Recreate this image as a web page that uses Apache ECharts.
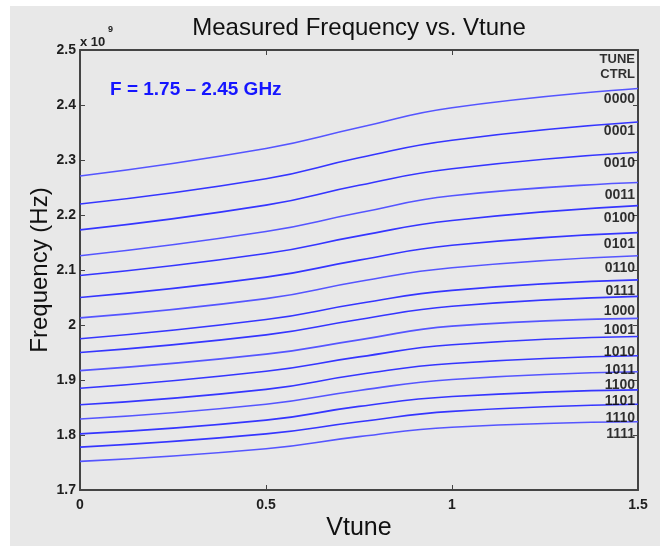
<!DOCTYPE html>
<html>
<head>
<meta charset="utf-8">
<script src="https://cdn.jsdelivr.net/npm/echarts@6/dist/echarts.min.js"></script>
<style>
html,body{margin:0;padding:0;background:#fff;}
#c{width:660px;height:546px;}
</style>
</head>
<body>
<div id="c"></div>
<script>
// Vtune sample points (V)
var vtune = [0, 0.5, 0.75, 1, 1.5];
// Measured frequency (GHz) per TUNE CTRL code
var tuneCodes = ['0000','0001','0010','0011','0100','0101','0110','0111','1000','1001','1010','1011','1100','1101','1110','1111'];
var f0000 = [2.271, 2.321, 2.359, 2.395, 2.430];
var f0001 = [2.220, 2.266, 2.304, 2.336, 2.369];
var f0010 = [2.173, 2.218, 2.254, 2.284, 2.314];
var f0011 = [2.126, 2.170, 2.204, 2.235, 2.259];
var f0100 = [2.090, 2.130, 2.162, 2.190, 2.217];
var f0101 = [2.050, 2.087, 2.118, 2.145, 2.168];
var f0110 = [2.013, 2.048, 2.079, 2.104, 2.126];
var f0111 = [1.975, 2.010, 2.039, 2.063, 2.082];
var f1000 = [1.950, 1.982, 2.010, 2.034, 2.052];
var f1001 = [1.917, 1.947, 1.973, 1.998, 2.012];
var f1010 = [1.885, 1.916, 1.942, 1.964, 1.979];
var f1011 = [1.855, 1.883, 1.910, 1.930, 1.944];
var f1100 = [1.829, 1.856, 1.881, 1.901, 1.915];
var f1101 = [1.802, 1.827, 1.852, 1.870, 1.882];
var f1110 = [1.778, 1.802, 1.824, 1.843, 1.856];
var f1111 = [1.752, 1.775, 1.797, 1.814, 1.824];
// Label anchor frequencies (GHz) at right edge for code labels
var codeLabelFreq = [2.410, 2.352, 2.295, 2.236, 2.194, 2.147, 2.103, 2.061, 2.026, 1.991, 1.950, 1.918, 1.891, 1.861, 1.830, 1.802];
var headerLabelFreq = [2.483, 2.455];
var headerLabels = ['TUNE', 'CTRL'];
var yTicks = ['1.7','1.8','1.9','2','2.1','2.2','2.3','2.4','2.5'];

var allSeries = [f0000,f0001,f0010,f0011,f0100,f0101,f0110,f0111,f1000,f1001,f1010,f1011,f1100,f1101,f1110,f1111];

var chart = echarts.init(document.getElementById('c'), null, {renderer:'canvas', devicePixelRatio:1});

var series = allSeries.map(function(arr, i){
  return {
    type:'line', name: tuneCodes[i], smooth:0.5,
    showSymbol:false, symbol:'none', silent:true,
    lineStyle:{color: i%3===0 ? '#5555ff' : '#3535ff', width:1.6},
    data: vtune.map(function(x,j){ return [x, arr[j]]; }),
    z:3
  };
});

var fam = 'Liberation Sans, Arial, sans-serif';

series.push({
  type:'scatter', symbolSize:0, silent:true, z:5,
  data: tuneCodes.map(function(c,i){ return {name:c, value:[1.5, codeLabelFreq[i]]}; }),
  label:{show:true, position:'left', distance:3, formatter:'{b}', fontSize:14,
    fontFamily:fam, fontWeight:'bold', color:'#000'}
});
series.push({
  type:'scatter', symbolSize:0, silent:true, z:5,
  data: headerLabels.map(function(c,i){ return {name:c, value:[1.5, headerLabelFreq[i]]}; }),
  label:{show:true, position:'left', distance:3, formatter:'{b}', fontSize:13,
    fontFamily:fam, fontWeight:'bold', color:'#000'}
});

var axisLineStyle = {color:'#444', width:2};
var tickLbl = {fontFamily:fam, fontWeight:'bold', fontSize:14, color:'#1e1e1e'};

chart.setOption({
  animation:false,
  backgroundColor:'#ffffff',
  grid:{left:80, right:22, top:50, bottom:56, show:false},
  xAxis:[{
    type:'value', min:0, max:1.5, interval:0.5, position:'bottom',
    axisLine:{show:true, onZero:false, lineStyle:axisLineStyle},
    axisTick:{show:true, inside:true, length:5, lineStyle:{color:'#444', width:1}},
    axisLabel:Object.assign({margin:8, formatter:function(v){return String(v);}}, tickLbl),
    splitLine:{show:false}
  },{
    type:'value', min:0, max:1.5, interval:0.5, position:'top',
    axisLine:{show:true, onZero:false, lineStyle:axisLineStyle},
    axisTick:{show:true, inside:true, length:5, lineStyle:{color:'#444', width:1}},
    axisLabel:{show:false}, splitLine:{show:false}
  }],
  yAxis:[{
    type:'value', min:1.7, max:2.5, interval:0.1, position:'left',
    axisLine:{show:true, onZero:false, lineStyle:axisLineStyle},
    axisTick:{show:true, inside:true, length:5, lineStyle:{color:'#444', width:1}},
    axisLabel:Object.assign({margin:4, formatter:function(v){
      var k = Math.round((v-1.7)*10); return yTicks[k];
    }}, tickLbl),
    splitLine:{show:false}
  },{
    type:'value', min:1.7, max:2.5, interval:0.1, position:'right',
    axisLine:{show:true, onZero:false, lineStyle:axisLineStyle},
    axisTick:{show:true, inside:true, length:5, lineStyle:{color:'#444', width:1}},
    axisLabel:{show:false}, splitLine:{show:false}
  }],
  graphic:[
    {type:'rect', left:10, top:6, shape:{width:650, height:540}, style:{fill:'#e8e8e8'}, z:-10, silent:true},
    {type:'text', x:359, y:28, style:{text:'Measured Frequency vs. Vtune', fontSize:24, fontFamily:fam, fill:'#111', align:'center', verticalAlign:'middle'}, z:10},
    {type:'text', x:359, y:528, style:{text:'Vtune', fontSize:25, fontFamily:fam, fill:'#111', align:'center', verticalAlign:'middle'}, z:10},
    {type:'text', x:40, y:270, rotation:Math.PI/2, style:{text:'Frequency (Hz)', fontSize:24, fontFamily:fam, fill:'#111', align:'center', verticalAlign:'middle'}, z:10},
    {type:'text', x:80, y:42, style:{text:'x 10', fontSize:13, fontWeight:'bold', fontFamily:fam, fill:'#222', align:'left', verticalAlign:'middle'}, z:10},
    {type:'text', x:108, y:30, style:{text:'9', fontSize:9, fontWeight:'bold', fontFamily:fam, fill:'#222', align:'left', verticalAlign:'middle'}, z:10},
    {type:'text', x:110, y:90, style:{text:'F = 1.75 \u2013 2.45 GHz', fontSize:19, fontWeight:'bold', fontFamily:fam, fill:'#1515ff', align:'left', verticalAlign:'middle'}, z:10}
  ],
  series: series
});
</script>
</body>
</html>
